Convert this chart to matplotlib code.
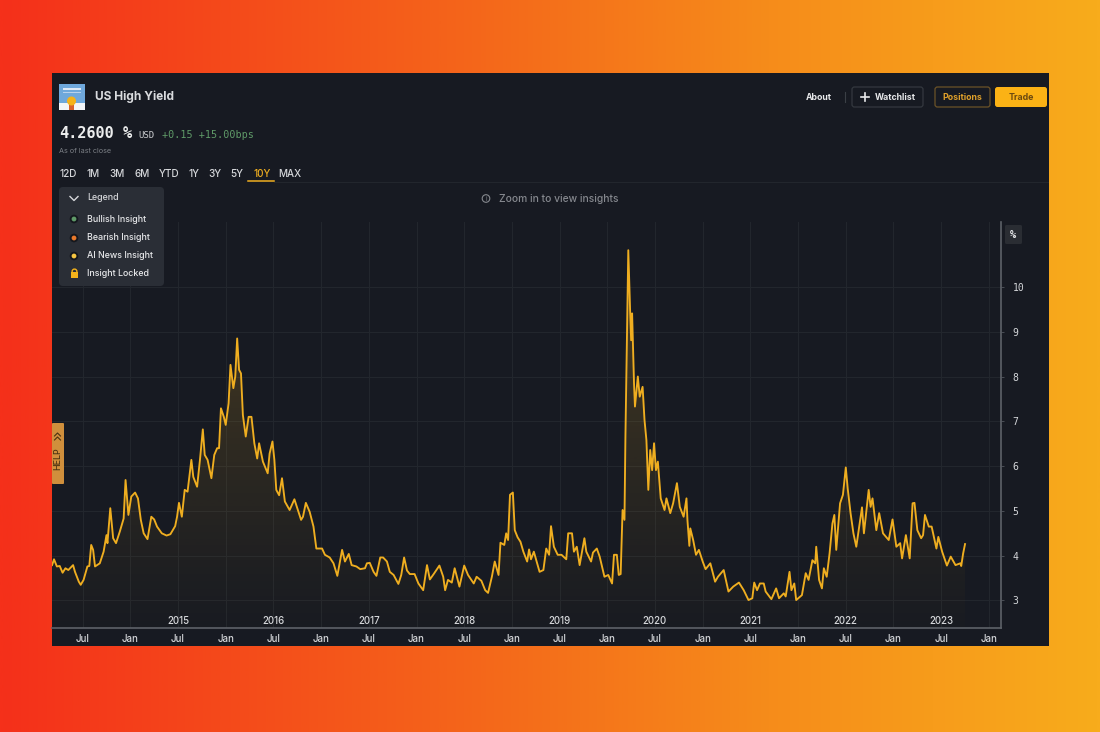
import numpy as np
from matplotlib import pyplot as plt
from matplotlib.colors import LinearSegmentedColormap, to_rgb
from matplotlib.patches import Circle, FancyBboxPatch, Rectangle

plt.rcParams["font.family"] = ["Inter", "DejaVu Sans"]

# fractional years / yield in %
years = [
    2014.18, 2014.20, 2014.23, 2014.26, 2014.29, 2014.32, 2014.35, 2014.40, 2014.42, 2014.46,
    2014.48, 2014.51, 2014.55, 2014.57, 2014.59, 2014.61, 2014.63, 2014.68, 2014.72, 2014.75,
    2014.76, 2014.79, 2014.82, 2014.85, 2014.89, 2014.93, 2014.95, 2014.98, 2015.01, 2015.05,
    2015.08, 2015.11, 2015.14, 2015.18, 2015.22, 2015.25, 2015.28, 2015.33, 2015.38, 2015.42,
    2015.47, 2015.49, 2015.51, 2015.54, 2015.57, 2015.60, 2015.64, 2015.66, 2015.70, 2015.73,
    2015.76, 2015.78, 2015.81, 2015.85, 2015.88, 2015.91, 2015.93, 2015.95, 2015.98, 2016.00,
    2016.03, 2016.05, 2016.08, 2016.10, 2016.12, 2016.14, 2016.16, 2016.18, 2016.21, 2016.24,
    2016.27, 2016.30, 2016.33, 2016.35, 2016.39, 2016.44, 2016.46, 2016.49, 2016.51, 2016.53,
    2016.56, 2016.59, 2016.62, 2016.67, 2016.72, 2016.74, 2016.79, 2016.81, 2016.84, 2016.88,
    2016.92, 2016.95, 2017.01, 2017.04, 2017.09, 2017.13, 2017.17, 2017.22, 2017.25, 2017.29,
    2017.32, 2017.37, 2017.41, 2017.46, 2017.48, 2017.51, 2017.55, 2017.58, 2017.62, 2017.65,
    2017.69, 2017.72, 2017.76, 2017.81, 2017.84, 2017.87, 2017.90, 2017.93, 2017.98, 2018.02,
    2018.07, 2018.11, 2018.14, 2018.18, 2018.24, 2018.28, 2018.30, 2018.33, 2018.37, 2018.40,
    2018.45, 2018.50, 2018.54, 2018.60, 2018.63, 2018.68, 2018.72, 2018.75, 2018.79, 2018.82,
    2018.86, 2018.88, 2018.92, 2018.94, 2018.96, 2018.98, 2019.01, 2019.03, 2019.06, 2019.09,
    2019.12, 2019.16, 2019.18, 2019.20, 2019.23, 2019.29, 2019.33, 2019.36, 2019.39, 2019.41,
    2019.44, 2019.48, 2019.52, 2019.57, 2019.59, 2019.63, 2019.65, 2019.68, 2019.71, 2019.76,
    2019.78, 2019.83, 2019.85, 2019.89, 2019.92, 2019.97, 2020.01, 2020.05, 2020.07, 2020.10,
    2020.12, 2020.14, 2020.16, 2020.18, 2020.19, 2020.20, 2020.22, 2020.24, 2020.25, 2020.26,
    2020.28, 2020.29, 2020.32, 2020.34, 2020.37, 2020.39, 2020.41, 2020.43, 2020.45, 2020.47,
    2020.49, 2020.51, 2020.53, 2020.56, 2020.60, 2020.62, 2020.66, 2020.69, 2020.73, 2020.76,
    2020.80, 2020.83, 2020.84, 2020.86, 2020.87, 2020.90, 2020.93, 2020.96, 2021.00, 2021.03,
    2021.08, 2021.13, 2021.16, 2021.22, 2021.27, 2021.32, 2021.38, 2021.43, 2021.48, 2021.52,
    2021.54, 2021.57, 2021.60, 2021.64, 2021.66, 2021.72, 2021.77, 2021.80, 2021.85, 2021.87,
    2021.91, 2021.93, 2021.96, 2021.98, 2022.04, 2022.08, 2022.11, 2022.15, 2022.18, 2022.19,
    2022.22, 2022.25, 2022.27, 2022.30, 2022.33, 2022.36, 2022.38, 2022.40, 2022.44, 2022.47,
    2022.50, 2022.52, 2022.55, 2022.58, 2022.61, 2022.67, 2022.69, 2022.74, 2022.76, 2022.78,
    2022.82, 2022.85, 2022.89, 2022.95, 2022.99, 2023.03, 2023.07, 2023.09, 2023.13, 2023.17,
    2023.20, 2023.22, 2023.25, 2023.29, 2023.31, 2023.33, 2023.37, 2023.40, 2023.45, 2023.47,
    2023.51, 2023.56, 2023.60, 2023.65, 2023.70, 2023.71, 2023.73, 2023.75,
]
yields = [
    3.79, 3.92, 3.76, 3.77, 3.62, 3.72, 3.68, 3.79, 3.64, 3.42,
    3.35, 3.46, 3.76, 3.77, 4.24, 4.13, 3.76, 3.83, 4.09, 4.46,
    4.28, 5.06, 4.39, 4.28, 4.54, 4.83, 5.69, 4.91, 5.32, 5.41,
    5.28, 4.80, 4.50, 4.37, 4.87, 4.81, 4.65, 4.50, 4.45, 4.48,
    4.66, 4.87, 5.18, 4.87, 5.47, 5.43, 6.14, 5.76, 5.54, 6.14,
    6.82, 6.25, 6.14, 5.73, 6.25, 6.40, 6.40, 7.29, 7.10, 6.92,
    7.40, 8.26, 7.74, 8.00, 8.85, 8.15, 8.07, 7.14, 6.66, 7.10,
    7.10, 6.51, 6.17, 6.51, 6.10, 5.84, 6.28, 6.55, 6.14, 5.47,
    5.35, 5.73, 5.21, 5.02, 5.26, 5.13, 4.80, 4.87, 5.18, 4.98,
    4.65, 4.16, 4.16, 4.02, 3.96, 3.83, 3.55, 4.13, 3.87, 4.04,
    3.79, 3.76, 3.70, 3.72, 3.83, 3.84, 3.64, 3.55, 3.96, 3.96,
    3.87, 3.64, 3.57, 3.37, 3.57, 3.96, 3.67, 3.59, 3.59, 3.38,
    3.23, 3.79, 3.47, 3.59, 3.78, 3.53, 3.23, 3.46, 3.40, 3.72,
    3.31, 3.78, 3.57, 3.38, 3.53, 3.44, 3.23, 3.17, 3.53, 3.87,
    3.57, 4.29, 4.24, 4.50, 4.35, 5.36, 5.41, 4.57, 4.41, 4.31,
    4.09, 3.87, 4.14, 3.92, 4.09, 3.64, 3.68, 4.16, 4.02, 4.66,
    4.20, 4.02, 4.02, 3.92, 4.50, 4.50, 4.09, 4.20, 3.79, 4.39,
    4.09, 3.87, 4.07, 4.16, 3.98, 3.53, 3.57, 3.38, 4.02, 4.02,
    3.57, 3.59, 5.02, 4.80, 6.66, 8.07, 10.82, 9.41, 8.81, 9.41,
    7.85, 7.33, 8.00, 7.55, 7.77, 7.03, 6.58, 5.47, 6.36, 5.91,
    6.51, 5.91, 6.10, 5.28, 5.02, 5.28, 4.95, 5.17, 5.62, 5.09,
    4.87, 5.28, 4.80, 4.22, 4.61, 4.35, 4.02, 4.13, 3.87, 3.70,
    3.83, 3.42, 3.53, 3.68, 3.20, 3.31, 3.40, 3.23, 3.01, 3.05,
    3.40, 3.23, 3.38, 3.38, 3.20, 3.03, 3.27, 3.05, 3.16, 3.09,
    3.64, 3.23, 3.38, 3.01, 3.12, 3.61, 3.46, 3.90, 3.83, 4.20,
    3.46, 3.27, 3.72, 3.53, 4.05, 4.72, 4.91, 4.13, 5.17, 5.36,
    5.97, 5.50, 4.95, 4.50, 4.20, 5.08, 4.50, 5.47, 5.09, 5.28,
    4.57, 4.95, 4.50, 4.35, 4.81, 4.20, 4.28, 3.94, 4.46, 3.94,
    5.17, 5.18, 4.57, 4.39, 4.46, 4.91, 4.65, 4.65, 4.16, 4.42,
    4.09, 3.78, 3.98, 3.79, 3.83, 3.77, 4.05, 4.26,
]

y_ticks = [3, 4, 5, 6, 7, 8, 9, 10]
x_ticks = [2014.5 + 0.5 * i for i in range(20)]
x_tick_labels = ["Jul", "Jan"] * 10
year_labels = [2015, 2016, 2017, 2018, 2019, 2020, 2021, 2022, 2023]
range_labels = ["12D", "1M", "3M", "6M", "YTD", "1Y", "3Y", "5Y", "10Y", "MAX"]
range_pos = [68, 93, 117, 142, 169, 194, 215, 237, 262, 290]
legend_labels = ["Bullish Insight", "Bearish Insight", "AI News Insight", "Insight Locked"]
legend_rows = [219, 238, 256, 274]
legend_colors = ["#5f9a68", "#e8782a", "#f5c542", "#f5b31a"]

PANEL = "#171a22"
AMBER = "#efae20"
MONO = "DejaVu Sans Mono"
SANS = ["Inter", "DejaVu Sans"]

fig = plt.figure(figsize=(11, 7.32), dpi=100)

# page background and dark panel
bg = fig.add_axes([0, 0, 1, 1], zorder=0)
bg.set_xlim(0, 1100)
bg.set_ylim(732, 0)
bg.axis("off")
page = LinearSegmentedColormap.from_list(
    "page", [(0, "#f5301a"), (0.4, "#f4621a"), (0.7, "#f68c1a"), (1, "#f8ac1c")]
)
bg.imshow(np.linspace(0, 1, 512)[None, :], cmap=page, extent=(0, 1100, 732, 0), aspect="auto")
bg.add_patch(Rectangle((52, 73), 997, 573, color=PANEL, lw=0))

# chart, in data coordinates
ax = fig.add_axes([52 / 1100, (732 - 628) / 732, 949 / 1100, 406 / 732], zorder=1)
ax.patch.set_alpha(0)
ax.grid(True, color="#23272e", lw=0.7)
ax.set_axisbelow(True)
ax.set_xticks(x_ticks, x_tick_labels)
ax.set_yticks(y_ticks, [str(v) for v in y_ticks])
ax.yaxis.tick_right()
ax.tick_params(axis="x", length=0, pad=4, labelsize=7, labelcolor="#d5d7da")
ax.tick_params(axis="y", length=2.5, width=0.7, color="#4a4e56", pad=6, labelsize=7, labelcolor="#d5d7da")
for lab in ax.get_yticklabels():
    lab.set_family(MONO)
for lab in ax.get_xticklabels():
    lab.set_fontweight("medium")
for side in ("top", "left"):
    ax.spines[side].set_visible(False)
for side in ("right", "bottom"):
    ax.spines[side].set_color("#5d6168")
    ax.spines[side].set_linewidth(1.2)

# fill under the line fades out towards the bottom
area = ax.fill_between(years, yields, 2.386, color="none", lw=0)
shade = np.zeros((256, 1, 4))
shade[..., :3] = to_rgb(AMBER)
shade[..., 3] = np.linspace(0.02, 0.32, 256)[:, None] ** 1.2
img = ax.imshow(shade, origin="lower", extent=(2014.179, 2024.127, 2.386, 11.0), aspect="auto", zorder=1.5)
img.set_clip_path(area.get_paths()[0], transform=ax.transData)
ax.set_xlim(2014.179, 2024.127)
ax.set_ylim(2.386, 11.45)
ax.plot(years, yields, color=AMBER, lw=1.35, solid_joinstyle="round", zorder=2)
for yr in year_labels:
    ax.text(yr + 0.5, 2.55, str(yr), ha="center", va="center", fontsize=7, color="#d5d7da", fontweight="medium")

# app chrome, drawn in pixel coordinates
ui = fig.add_axes([0, 0, 1, 1], zorder=2)
ui.set_xlim(0, 1100)
ui.set_ylim(732, 0)
ui.axis("off")
ui.patch.set_alpha(0)


def box(x0, y0, x1, y1, face, edge="none", r=2.5, lw=1):
    ui.add_patch(FancyBboxPatch((x0 + r, y0 + r), x1 - x0 - 2 * r, y1 - y0 - 2 * r,
                                boxstyle=f"round,pad={r}", fc=face, ec=edge, lw=lw))


def label(x, y, s, size=6.5, color="#e8e9eb", ha="left", weight="normal", family=None, **kw):
    ui.text(x, y, s, fontsize=size, color=color, ha=ha, va="center", fontweight=weight,
            family=family or SANS, **kw)


# logo
ui.add_patch(Rectangle((59, 84), 26, 26, color="#f3f5f8", lw=0))
ui.add_patch(Rectangle((59, 84), 26, 19, color="#6fa8dc", lw=0))
ui.add_patch(Rectangle((63, 88), 18, 1.6, color="#dfe9f5", lw=0))
ui.add_patch(Rectangle((63, 92), 18, 1, color="#b9d2ec", lw=0))
ui.add_patch(Rectangle((69, 104), 5, 6, color="#d9622b", lw=0))
ui.add_patch(Circle((71.5, 101), 4.5, color="#f5b31a", lw=0))

label(95, 97, "US High Yield", 8.6, "#d9dbde", weight="bold")
label(59, 134, "4.2600", 11, "#eceded", weight="bold", family=MONO)
label(123, 133, "%", 11, "#eceded", weight="bold", family=MONO)
label(138, 135, "USD", 6.5, "#c9cbce", family=MONO)
label(162, 135, "+0.15 +15.00bps", 7.3, "#5f9a68", family=MONO)
label(59, 151, "As of last close", 5.2, "#7b7f85")

# range selector
for x, s in zip(range_pos, range_labels):
    label(x, 174, s, 7.2, AMBER if s == "10Y" else "#d5d7da", ha="center", weight="medium")
ui.plot([248, 274], [181, 181], color=AMBER, lw=1.1)
ui.plot([274, 1048], [182, 182], color="#23272e", lw=0.7)

# header buttons
label(819, 97, "About", 6.3, "#e8e9eb", ha="center", weight="bold")
ui.plot([845, 845], [92, 102], color="#3b3f46", lw=0.8)
box(852, 87, 923, 107, PANEL, "#34383f", lw=0.9)
ui.plot([860.5, 868.5], [97, 97], color="#e8e9eb", lw=1.2)
ui.plot([864.5, 864.5], [93, 101], color="#e8e9eb", lw=1.2)
label(875, 97, "Watchlist", 6.3, "#e8e9eb", weight="bold")
box(935, 87, 990, 107, PANEL, "#6b5228", lw=0.9)
label(962.5, 97, "Positions", 6.3, "#dfa02a", ha="center", weight="bold")
box(995, 87, 1047, 107, "#fbb215")
label(1021, 97, "Trade", 6.3, "#6b4a10", ha="center", weight="bold")

label(499, 199, "Zoom in to view insights", 7.4, "#85888e", weight="medium")
ui.add_patch(Circle((486, 198.5), 3.8, fc="none", ec="#85888e", lw=0.8))
label(486, 198.7, "i", 4.5, "#85888e", ha="center")

# legend panel
box(59, 187, 164, 286, "#2a2e36", r=4)
ui.plot([70, 74, 78], [196.5, 200.5, 196.5], color="#d5d7da", lw=1)
label(87, 198, "Legend", 6.4, "#d5d7da", weight="medium")
for y, s, c in zip(legend_rows[:3], legend_labels[:3], legend_colors[:3]):
    ui.add_patch(Circle((74, y), 4.3, fc="#14171d", lw=0))
    ui.add_patch(Circle((74, y), 2.4, fc=c, lw=0))
    label(87, y, s, 6.4, "#e8e9eb", weight="medium")
ui.add_patch(Rectangle((71, 272), 7, 6, color=legend_colors[3], lw=0))
ui.add_patch(Circle((74.5, 271.5), 2.4, fc="none", ec=legend_colors[3], lw=1))
label(87, legend_rows[3], legend_labels[3], 6.4, "#e8e9eb", weight="medium")

# help tab
box(52, 423, 64, 484, "#d08f3c", r=1)
label(57.5, 459, "HELP", 6.4, "#4a3212", ha="center", rotation=90, weight="medium")
ui.plot([54.5, 57.5, 60.5], [440, 437, 440], color="#4a3212", lw=0.8)
ui.plot([54.5, 57.5, 60.5], [436, 433, 436], color="#4a3212", lw=0.8)

# unit tag above the price scale
box(1005, 225, 1022, 244, "#2a2d33", r=1.5)
label(1013.5, 235, "%", 7.5, "#e8e9eb", ha="center", family=MONO, weight="bold")

fig.savefig("out.png", dpi=100)
